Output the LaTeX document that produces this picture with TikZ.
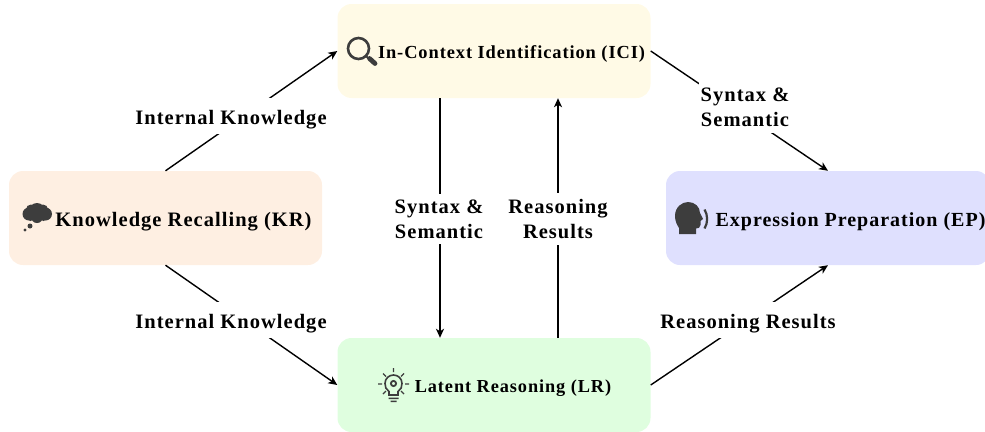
\documentclass[tikz,border=0pt]{standalone}
\usepackage{fontspec}
\setmainfont[LetterSpace=5]{Liberation Serif}
\usetikzlibrary{arrows.meta}
\definecolor{krc}{HTML}{FEEFE2}
\definecolor{icic}{HTML}{FFFAE6}
\definecolor{epc}{HTML}{DFE0FE}
\definecolor{lrc}{HTML}{DFFEDF}
\definecolor{ico}{HTML}{3D3D3D}
\tikzset{
  boxn/.style={rounded corners=14pt,minimum height=94pt,minimum width=313pt,inner sep=0pt,draw=none},
  txt/.style={text=black,inner sep=0pt},
  lab/.style={font=\bfseries\fontsize{20.5pt}{25pt}\selectfont,text=black,fill=white,inner xsep=2pt,inner ysep=6pt,align=center},
  labone/.style={lab,text height=20pt,text depth=4pt},
  conn/.style={draw=black,line width=1.4pt,-{Stealth[length=9pt,width=8pt,inset=2.5pt]}}
}
\begin{document}
\begin{tikzpicture}[x=1pt,y=-1pt]
\useasboundingbox (0,0) rectangle (985,431);
\node[boxn,fill=krc] (kr) at (165.5,218) {};
\node[boxn,fill=icic] (ici) at (494,51) {};
\node[boxn,fill=epc,minimum width=324pt] (ep) at (828,218) {};
\node[boxn,fill=lrc] (lr) at (494,385) {};
\draw[conn] (kr.north) -- (ici.west);
\draw[conn] (kr.south) -- (lr.west);
\draw[conn] ([xshift=-54pt]ici.south) -- ([xshift=-54pt]lr.north);
\draw[conn] ([xshift=64pt]lr.north) -- ([xshift=64pt]ici.south);
\draw[conn] (ici.east) -- (ep.north);
\draw[conn] (lr.east) -- (ep.south);
\node[txt,font=\bfseries\fontsize{20.5pt}{24pt}\selectfont] (krt) at (183.5,221.5) {Knowledge Recalling (KR)};
\node[txt,font=\bfseries\fontsize{18.4pt}{22pt}\selectfont] (icit) at (511.5,54) {In-Context Identification (ICI)};
\node[txt,font=\bfseries\fontsize{20pt}{24pt}\selectfont] (ept) at (850.5,221.5) {Expression Preparation (EP)};
\node[txt,font=\bfseries\fontsize{18.3pt}{22pt}\selectfont] (lrt) at (513,388) {Latent Reasoning (LR)};
\node[labone] (l1) at (231,116) {Internal Knowledge};
\node[labone] (l2) at (231,320) {Internal Knowledge};
\node[lab] (l3) at (439,219) {Syntax \&\\Semantic};
\node[lab] (l4) at (558,219) {Reasoning\\Results};
\node[lab] (l5) at (745,107.5) {Syntax \&\\Semantic};
\node[labone] (l6) at (748,320) {Reasoning Results};
% thought
\fill[ico] (37,211) circle (8) (29,214) circle (6.5) (45.5,214) circle (6.5) (31,209.5) circle (5) (43,209.5) circle (5) (37,217) circle (6) (30.5,216) circle (5) (43.5,216) circle (5);
\fill[ico] (30,226) circle (2.5) (25,230) circle (1.6);
% magnifier
\draw[ico,line width=2.6pt] (358.5,48.5) circle (10.5);
\draw[ico,line width=2pt] (366,56) -- (369,59);
\draw[ico,line width=4.8pt,line cap=round] (369.5,58.5) -- (375,63.5);
% head
\fill[ico] (675,216) .. controls (675,207) and (682,202) .. (688,202) .. controls (695,202) and (700,207) .. (700,213) -- (703,219) -- (700.5,221) -- (700.5,225) .. controls (700.5,228) and (698,228.5) .. (696,228.5) -- (696,234) -- (679,234) -- (679,228) .. controls (677,225) and (675,221) .. (675,216) -- cycle;
\draw[ico,line width=2.2pt] (704.5,209.5) .. controls (708,215) and (708,223) .. (704.5,228.5);
% bulb
\draw[ico,line width=1.6pt] (389,395) -- (389,391.5) .. controls (386,390) and (385,386.5) .. (385,383.5) .. controls (385,378.5) and (389,375) .. (393.5,375) .. controls (398,375) and (402,378.5) .. (402,383.5) .. controls (402,386.5) and (401,390) .. (398,391.5) -- (398,395) -- cycle;
\draw[ico,line width=1.8pt] (393.5,383.5) circle (2.6);
\fill[ico] (388.5,397.5) rectangle (398.5,399) (390.5,400.5) rectangle (396.5,402);
\draw[ico,line width=1.3pt] (393.5,368) -- (393.5,372) (378,384) -- (382,384) (405,384) -- (409,384) (383,373.5) -- (386,376.5) (404,373.5) -- (401,376.5) (383,394) -- (386,391) (404,394) -- (401,391);
\end{tikzpicture}
\end{document}
